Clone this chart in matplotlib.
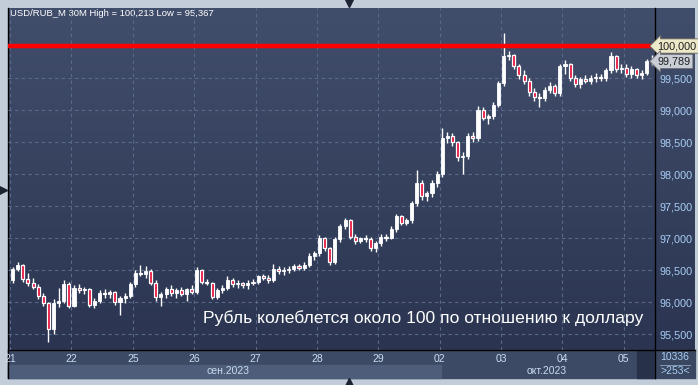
import numpy as np
import matplotlib
matplotlib.use('Agg')
import matplotlib.pyplot as plt
from matplotlib.colors import LinearSegmentedColormap

plt.rcParams['font.family'] = ['Liberation Sans', 'DejaVu Sans']

# 30-минутные свечи USD/RUB_M, 12 свечей на торговый день (по графику)
day_labels = ['21', '22', '25', '26', '27', '28', '29', '02', '03', '04', '05']
month_labels = ['сен.2023', 'окт.2023']
candles_per_day = 12

opens = [
    96.34, 96.52, 96.58, 96.36, 96.30, 96.24, 96.10, 95.98, 95.58, 95.98, 96.02, 96.28,
    95.94, 96.22, 96.18, 96.20, 95.96, 96.02, 96.14, 96.12, 96.15, 96.00, 96.06, 96.10,
    96.28, 96.45, 96.44, 96.48, 96.30, 96.08, 96.12, 96.20, 96.14, 96.18, 96.12, 96.20,
    96.16, 96.50, 96.32, 96.30, 96.08, 96.18, 96.22, 96.35, 96.28, 96.30, 96.26, 96.30,
    96.32, 96.40, 96.38, 96.34, 96.52, 96.48, 96.50, 96.52, 96.56, 96.53, 96.58, 96.72,
    96.76, 97.00, 96.84, 96.62, 96.98, 97.18, 97.28, 97.02, 96.96, 97.00, 96.98, 96.84,
    96.92, 97.02, 97.00, 97.14, 97.34, 97.24, 97.28, 97.54, 97.86, 97.66, 97.70, 97.86,
    98.00, 98.56, 98.60, 98.50, 98.26, 98.28, 98.60, 98.56, 99.00, 98.88, 98.90, 99.08,
    99.42, 99.84, 99.86, 99.68, 99.54, 99.46, 99.28, 99.20, 99.18, 99.32, 99.38, 99.26,
    99.68, 99.72, 99.50, 99.40, 99.48, 99.46, 99.50, 99.52, 99.50, 99.62, 99.84, 99.64,
    99.66, 99.56, 99.64, 99.54, 99.58, 99.76,
]
highs = [
    96.55, 96.62, 96.60, 96.45, 96.38, 96.28, 96.14, 96.00, 96.05, 96.22, 96.35, 96.32,
    96.26, 96.28, 96.24, 96.22, 96.06, 96.18, 96.20, 96.18, 96.17, 96.10, 96.14, 96.32,
    96.50, 96.58, 96.56, 96.52, 96.34, 96.16, 96.24, 96.26, 96.22, 96.24, 96.22, 96.26,
    96.54, 96.52, 96.36, 96.32, 96.22, 96.26, 96.40, 96.38, 96.34, 96.32, 96.34, 96.36,
    96.42, 96.44, 96.42, 96.60, 96.56, 96.54, 96.56, 96.60, 96.60, 96.62, 96.76, 96.80,
    97.04, 97.02, 96.86, 97.02, 97.22, 97.32, 97.30, 97.06, 97.02, 97.04, 97.02, 96.96,
    97.06, 97.06, 97.18, 97.38, 97.36, 97.32, 97.58, 98.06, 97.90, 97.74, 97.90, 98.04,
    98.72, 98.66, 98.64, 98.52, 98.34, 98.64, 98.66, 99.06, 99.04, 98.94, 99.12, 99.46,
    100.21, 99.92, 99.88, 99.72, 99.62, 99.50, 99.34, 99.26, 99.36, 99.44, 99.40, 99.72,
    99.78, 99.74, 99.54, 99.52, 99.54, 99.54, 99.58, 99.56, 99.66, 99.90, 99.86, 99.72,
    99.72, 99.68, 99.66, 99.62, 99.80, 99.86,
]
lows = [
    96.30, 96.48, 96.32, 96.25, 96.20, 96.05, 95.94, 95.37, 95.50, 95.92, 95.98, 95.90,
    95.92, 96.14, 96.12, 95.92, 95.90, 95.98, 96.06, 96.06, 95.96, 95.80, 95.98, 96.06,
    96.24, 96.40, 96.38, 96.26, 96.02, 95.94, 96.06, 96.10, 96.06, 96.10, 96.02, 96.12,
    96.12, 96.28, 96.26, 96.04, 96.04, 96.14, 96.18, 96.24, 96.22, 96.22, 96.20, 96.26,
    96.28, 96.34, 96.30, 96.32, 96.44, 96.42, 96.46, 96.48, 96.50, 96.50, 96.54, 96.66,
    96.72, 96.80, 96.58, 96.60, 96.94, 97.14, 96.98, 96.90, 96.92, 96.94, 96.80, 96.78,
    96.88, 96.96, 96.98, 97.10, 97.20, 97.20, 97.24, 97.50, 97.60, 97.58, 97.64, 97.80,
    97.96, 98.48, 98.44, 98.20, 98.00, 98.24, 98.50, 98.52, 98.84, 98.78, 98.86, 99.04,
    99.38, 99.78, 99.64, 99.48, 99.40, 99.22, 99.14, 99.05, 99.14, 99.26, 99.22, 99.22,
    99.56, 99.46, 99.36, 99.34, 99.42, 99.40, 99.44, 99.46, 99.46, 99.58, 99.60, 99.58,
    99.52, 99.50, 99.50, 99.48, 99.54, 99.70,
]
closes = [
    96.52, 96.58, 96.36, 96.30, 96.24, 96.10, 95.98, 95.58, 95.98, 96.02, 96.28, 95.94,
    96.22, 96.18, 96.20, 95.96, 96.02, 96.14, 96.12, 96.15, 96.00, 96.06, 96.10, 96.28,
    96.45, 96.44, 96.48, 96.30, 96.08, 96.12, 96.20, 96.14, 96.18, 96.12, 96.20, 96.16,
    96.50, 96.32, 96.30, 96.08, 96.18, 96.22, 96.35, 96.28, 96.30, 96.26, 96.30, 96.32,
    96.40, 96.38, 96.34, 96.52, 96.48, 96.50, 96.52, 96.56, 96.53, 96.58, 96.72, 96.76,
    97.00, 96.84, 96.62, 96.98, 97.18, 97.28, 97.02, 96.96, 97.00, 96.98, 96.84, 96.92,
    97.02, 97.00, 97.14, 97.34, 97.24, 97.28, 97.54, 97.86, 97.66, 97.70, 97.86, 98.00,
    98.56, 98.60, 98.50, 98.26, 98.28, 98.60, 98.56, 99.00, 98.88, 98.90, 99.08, 99.42,
    99.84, 99.86, 99.68, 99.54, 99.46, 99.28, 99.20, 99.18, 99.32, 99.38, 99.26, 99.68,
    99.72, 99.50, 99.40, 99.48, 99.46, 99.50, 99.52, 99.50, 99.62, 99.84, 99.64, 99.66,
    99.56, 99.64, 99.54, 99.58, 99.76, 99.789,
]
level = 100.0
y_ticks = [95.5, 96.0, 96.5, 97.0, 97.5, 98.0, 98.5, 99.0, 99.5]
caption = 'Рубль колеблется около 100 по отношению к доллару'

o = np.array(opens); h = np.array(highs); l = np.array(lows); c = np.array(closes)
x = np.arange(len(c))
up = c >= o

W, H = 698, 385
fig = plt.figure(figsize=(W / 100, H / 100), dpi=100, facecolor='#c3cdd9')

# рамка терминала в пикселях
frame = fig.add_axes([0, 0, 1, 1], zorder=0)
frame.set_xlim(0, W); frame.set_ylim(H, 0); frame.axis('off')
grad = np.linspace(0, 1, 256).reshape(-1, 1)
cmap = LinearSegmentedColormap.from_list('bg', ['#414e6b', '#2b3551'])
frame.imshow(grad, cmap=cmap, extent=(8, 695, 350, 8), aspect='auto', origin='upper')
frame.add_patch(plt.Rectangle((8, 350), 647, 28, color='#3d4a65'))
frame.add_patch(plt.Rectangle((8, 365), 433, 13, color='#4e5e7a'))
frame.add_patch(plt.Rectangle((637, 350), 18, 28, color='#27314a'))
frame.add_patch(plt.Rectangle((655, 350), 40, 28, color='#3a4761'))
frame.plot([8, 8], [8, 378], color='black', lw=1)
frame.plot([655, 655], [8, 378], color='black', lw=1)
frame.plot([8, 695], [350, 350], color='black', lw=1)
frame.plot([660, 690], [364.5, 364.5], color='#8fa6c4', lw=0.6)
frame.text(675, 357, '10336', color='#a9cdf5', fontsize=7.5, ha='center', va='center')
frame.text(675, 371, '>253<', color='#a9cdf5', fontsize=7.5, ha='center', va='center')
frame.text(228, 371, month_labels[0], color='#c8dcf0', fontsize=7.5, ha='center', va='center')
frame.text(547, 371, month_labels[1], color='#c8dcf0', fontsize=7.5, ha='center', va='center')
frame.plot([349], [2.5], marker='v', color='#1c2333', ms=6)
frame.plot([349], [382], marker='^', color='#1c2333', ms=6)
frame.plot([3], [190], marker='>', color='#1c2333', ms=6)
frame.text(10, 13, 'USD/RUB_M 30M High = 100,213 Low = 95,367', color='white',
           fontsize=6.8, ha='left', va='center')

# основной график
ax = fig.add_axes([8 / W, 35 / H, 647 / W, 342 / H], zorder=1)
ax.set_facecolor('none')
for s in ax.spines.values():
    s.set_visible(False)

ax.vlines(x, l, h, color='white', lw=1, zorder=3)
ax.bar(x[up], (c - o)[up], bottom=o[up], width=0.6, color='white',
       edgecolor='white', lw=0.6, zorder=4)
ax.bar(x[~up], (c - o)[~up], bottom=o[~up], width=0.6, color='#e8123c',
       edgecolor='white', lw=0.9, zorder=4)
ax.axhline(level, color='#ff0000', lw=3.2, zorder=5)

ax.set_xlim(-0.9, 125.6)
ax.set_ylim(95.25, 100.594)

day_pos = [candles_per_day * i - 0.5 for i in range(len(day_labels))]
ax.set_xticks(day_pos, day_labels)
ax.tick_params(axis='x', length=0, pad=3, labelcolor='#c8dcf0', labelsize=7.5)
ax.yaxis.tick_right()
ax.set_yticks(y_ticks, [f'{v:.3f}'.replace('.', ',') for v in y_ticks])
ax.tick_params(axis='y', length=0, pad=3, labelcolor='#a9cdf5', labelsize=7.8)
ax.grid(True, color='#5a6a89', lw=0.8, ls=(0, (3, 3)), zorder=1)

ax.text(1.004, level, f'{level:.3f}'.replace('.', ','), transform=ax.get_yaxis_transform(),
        fontsize=7.8, color='#202020', va='center', ha='left', clip_on=False, zorder=6,
        bbox=dict(boxstyle='larrow,pad=0.2', fc='#ece8c8', ec='#6a6a60', lw=0.6))
ax.text(1.004, c[-1] - 0.03, f'{c[-1]:.3f}'.replace('.', ','), transform=ax.get_yaxis_transform(),
        fontsize=7.8, color='#202020', va='center', ha='left', clip_on=False, zorder=6,
        bbox=dict(boxstyle='larrow,pad=0.2', fc='#c9cdd5', ec='#6a6a70', lw=0.6))

fig.text(423 / W, 1 - 318 / H, caption, color='white', fontsize=12.6,
         ha='center', va='center', zorder=7)

fig.savefig('out.png', dpi=100, facecolor=fig.get_facecolor())
